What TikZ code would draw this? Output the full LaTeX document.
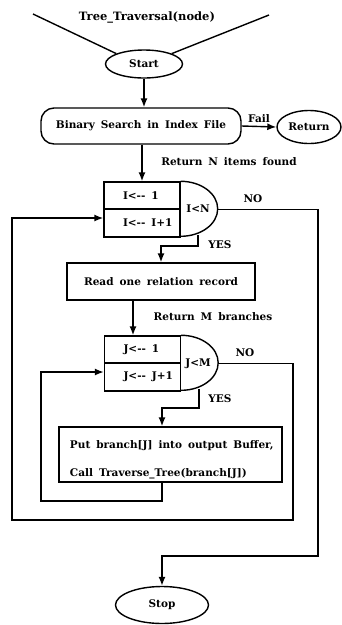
\documentclass[tikz,border=0pt]{standalone}
\usepackage{fontspec}
\setmainfont{DejaVu Serif}
\usetikzlibrary{shapes.geometric,arrows.meta,positioning}

\newcommand{\flowfont}[1]{\bfseries\fontsize{#1}{13}\selectfont\setlength{\spaceskip}{6pt}}
\newcommand{\lefttxt}[1]{\makebox[38pt][l]{#1}}
\tikzset{
  txt/.style={font=\flowfont{10.5}},
  oval/.style={draw,ellipse,line width=1.4pt,inner sep=0pt,txt},
  box/.style={draw,rectangle,line width=1.4pt,inner sep=0pt,txt},
  loopbox/.style={box,minimum width=76pt},
  flow/.style={line width=1.4pt,-{Latex[length=9pt,width=7pt]}},
  wire/.style={line width=1.4pt},
}

\begin{document}
\begin{tikzpicture}[x=1pt,y=-1pt]
\useasboundingbox (0,0) rectangle (341,625);
% entry
\node[txt,font=\flowfont{11.5}] (title) at (147,17) {Tree\_Traversal(node)};
\node[oval,minimum width=77pt,minimum height=28pt] (start) at (144,64) {Start};
\coordinate (inl) at (33,14);
\coordinate (inr) at (269,15);
\draw[wire] (inl) -- (start.north west);
\draw[wire] (inr) -- (start.north east);
% index search
\node[box,rounded corners=13pt,minimum width=200pt,minimum height=36pt] (search) at (141,126) {Binary Search in Index File};
\node[oval,minimum width=64pt,minimum height=33pt] (return) at (309,127) {Return};
\draw[flow] (start.south) -- (start.south |- search.north);
\draw[flow] (search.east) -- node[txt,above] {Fail} (return.west);
% outer loop
\node[loopbox,minimum height=27pt] (iinit) at (142,195.5) {\lefttxt{I<{-}{-} 1}};
\node[loopbox,minimum height=28pt] (iinc) at (142,223) {\lefttxt{I<{-}{-} I+1}};
\draw[wire] (iinit.north east) arc[start angle=-90,end angle=90,x radius=37,y radius=27.5];
\node[txt] (icond) at (198,209) {I<N};
\coordinate (iright) at ([xshift=37pt]iinit.south east);
\coordinate (iyes) at (198,235);
\draw[flow] (search.south -| iinit.north) -- (iinit.north);
\node[txt] at (229,162) {Return N items found};
\node[txt] at (253,199) {NO};
\node[txt] at (220,245) {YES};
\node[box,minimum width=188pt,minimum height=37pt] (read) at (161,281.5) {Read one relation record};
\draw[flow] (iyes) -- (198,246) -| (read.north);
% inner loop
\node[loopbox,minimum height=27pt] (jinit) at (142.5,349.5) {\lefttxt{J<{-}{-} 1}};
\node[loopbox,minimum height=28pt] (jinc) at (142.5,377) {\lefttxt{J<{-}{-} J+1}};
\draw[wire] (jinit.north east) arc[start angle=-90,end angle=90,x radius=37,y radius=27.5];
\node[txt] (jcond) at (198,364) {J<M};
\coordinate (jright) at ([xshift=37pt]jinit.south east);
\coordinate (jyes) at (199,389);
\draw[flow] ([xshift=-28pt]read.south) -- ([xshift=-28pt]read.south |- jinit.north);
\node[txt] at (213,317) {Return M branches};
\node[txt] at (245,353) {NO};
\node[txt] at (220,399) {YES};
\node[box,minimum width=223pt,minimum height=55pt,text width=201pt,inner xsep=11pt,align=left] (put) at (170.5,454.5)
  {\setlength{\spaceskip}{6pt}\mbox{\rule{0pt}{18pt}Put branch[J] into output Buffer,}\\[15pt]\mbox{Call Traverse\_Tree(branch[J])}};
\draw[flow] (jyes) -- (199,408) -| ([xshift=-8.5pt]put.north);
% back edges
\draw[flow] ([xshift=-8.5pt]put.south) |- (41,501) |- ([yshift=5pt]jinc.west);
\draw[flow] (jright) -| (293,520) -| (12,218) -- ([yshift=5pt]iinc.west);
% exit
\node[oval,minimum width=93pt,minimum height=37pt] (stop) at (162,605) {Stop};
\draw[flow] (iright) -| (318,556) -| (stop.north);
\end{tikzpicture}
\end{document}
